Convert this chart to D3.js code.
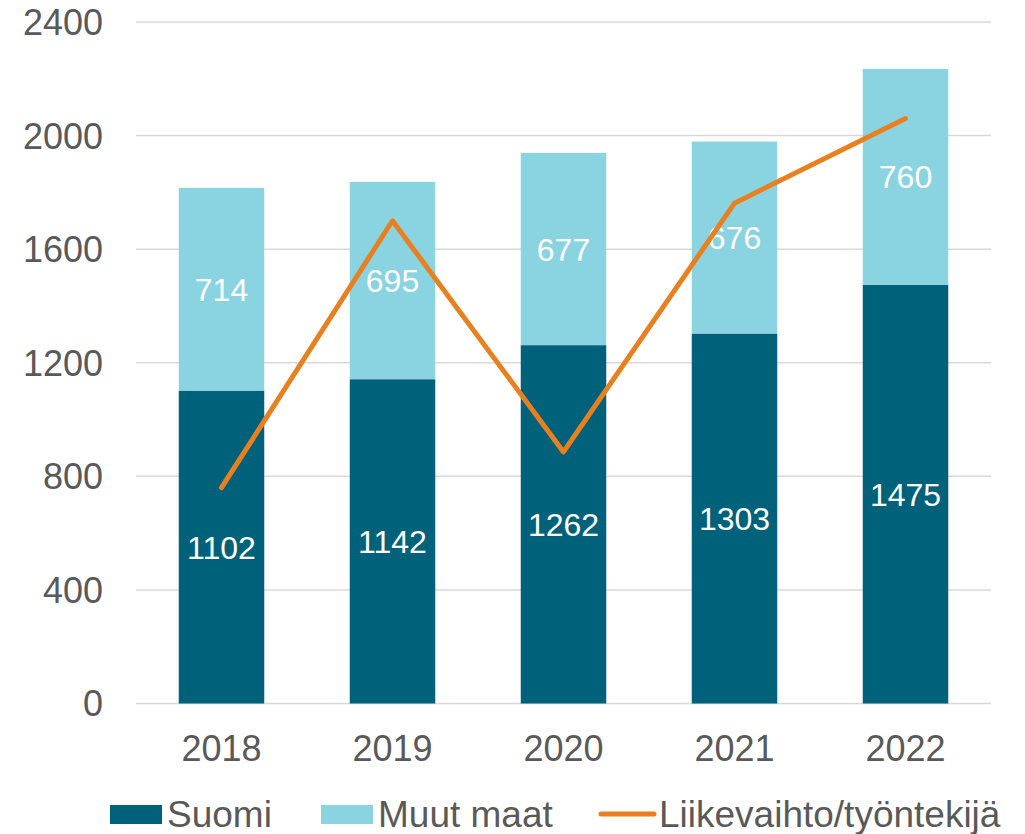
<!DOCTYPE html>
<html>
<head>
<meta charset="utf-8">
<script src="https://cdn.jsdelivr.net/npm/d3@7"></script>
<style>
  body { margin: 0; background: #fff; }
  text { font-family: "Liberation Sans", Arial, sans-serif; }
</style>
</head>
<body>
<div id="chart"></div>
<script>
var years     = ['2018', '2019', '2020', '2021', '2022'];
var suomi     = [1102, 1142, 1262, 1303, 1475];
var muutMaat  = [714, 695, 677, 676, 760];
var liikevaihto = [760, 1700, 886, 1762, 2060];
var yTicks    = [0, 400, 800, 1200, 1600, 2000, 2400];

var W = 1025, H = 834;
/* plot edges, in pixels (window.top is reserved, hence the prefix) */
var plotL = 136, plotR = 991, plotT = 22, plotB = 703.5;
var cDark = '#00627a', cLight = '#8ad4e2', cLine = '#e8801f', cText = '#595959';

var svg = d3.select('#chart').append('svg')
  .attr('width', W).attr('height', H);

var x = d3.scaleBand().domain(years).range([plotL, plotR])
  .paddingInner(0.5).paddingOuter(0.25);
var y = d3.scaleLinear().domain([0, 2400]).range([plotB, plotT]);

/* gridlines */
svg.append('g').selectAll('line').data(yTicks).enter().append('line')
  .attr('x1', plotL).attr('x2', plotR)
  .attr('y1', function (d) { return y(d); })
  .attr('y2', function (d) { return y(d); })
  .attr('stroke', '#d9d9d9').attr('stroke-width', 1.5);

/* y tick labels */
svg.append('g').selectAll('text').data(yTicks).enter().append('text')
  .attr('x', 103).attr('y', function (d) { return y(d); })
  .attr('dy', '0.36em')
  .attr('text-anchor', 'end')
  .attr('font-size', 36).attr('fill', cText)
  .text(function (d) { return d; });

/* bars */
var rows = years.map(function (yr, i) {
  return { year: yr, s: suomi[i], m: muutMaat[i] };
});

var g = svg.append('g');
g.selectAll('rect.s').data(rows).enter().append('rect')
  .attr('class', 's')
  .attr('x', function (d) { return x(d.year); })
  .attr('width', x.bandwidth())
  .attr('y', function (d) { return y(d.s); })
  .attr('height', function (d) { return y(0) - y(d.s); })
  .attr('fill', cDark);

g.selectAll('rect.m').data(rows).enter().append('rect')
  .attr('class', 'm')
  .attr('x', function (d) { return x(d.year); })
  .attr('width', x.bandwidth())
  .attr('y', function (d) { return y(d.s + d.m); })
  .attr('height', function (d) { return y(d.s) - y(d.s + d.m); })
  .attr('fill', cLight);

/* data labels */
g.selectAll('text.s').data(rows).enter().append('text')
  .attr('class', 's')
  .attr('x', function (d) { return x(d.year) + x.bandwidth() / 2; })
  .attr('y', function (d) { return (y(0) + y(d.s)) / 2; })
  .attr('dy', '0.36em').attr('text-anchor', 'middle')
  .attr('font-size', 32).attr('fill', '#fff')
  .text(function (d) { return d.s; });

g.selectAll('text.m').data(rows).enter().append('text')
  .attr('class', 'm')
  .attr('x', function (d) { return x(d.year) + x.bandwidth() / 2; })
  .attr('y', function (d) { return (y(d.s) + y(d.s + d.m)) / 2; })
  .attr('dy', '0.36em').attr('text-anchor', 'middle')
  .attr('font-size', 32).attr('fill', '#fff')
  .text(function (d) { return d.m; });

/* line */
var line = d3.line()
  .x(function (d, i) { return x(years[i]) + x.bandwidth() / 2; })
  .y(function (d) { return y(d); });

svg.append('path').datum(liikevaihto)
  .attr('d', line)
  .attr('fill', 'none').attr('stroke', cLine)
  .attr('stroke-width', 5)
  .attr('stroke-linejoin', 'round').attr('stroke-linecap', 'round');

/* x labels */
svg.append('g').selectAll('text').data(years).enter().append('text')
  .attr('x', function (d) { return x(d) + x.bandwidth() / 2; })
  .attr('y', 761)
  .attr('text-anchor', 'middle')
  .attr('font-size', 36).attr('fill', cText)
  .text(function (d) { return d; });

/* legend */
var leg = svg.append('g').attr('font-size', 37).attr('fill', cText);
leg.append('rect').attr('x', 110).attr('y', 805).attr('width', 52).attr('height', 19).attr('fill', cDark);
leg.append('text').attr('x', 167).attr('y', 827).text('Suomi');
leg.append('rect').attr('x', 321).attr('y', 805).attr('width', 52).attr('height', 19).attr('fill', cLight);
leg.append('text').attr('x', 378).attr('y', 827).text('Muut maat');
leg.append('line').attr('x1', 601).attr('x2', 654).attr('y1', 814).attr('y2', 814)
  .attr('stroke', cLine).attr('stroke-width', 5).attr('stroke-linecap', 'round');
leg.append('text').attr('x', 659).attr('y', 827).text('Liikevaihto/työntekijä');
</script>
</body>
</html>
